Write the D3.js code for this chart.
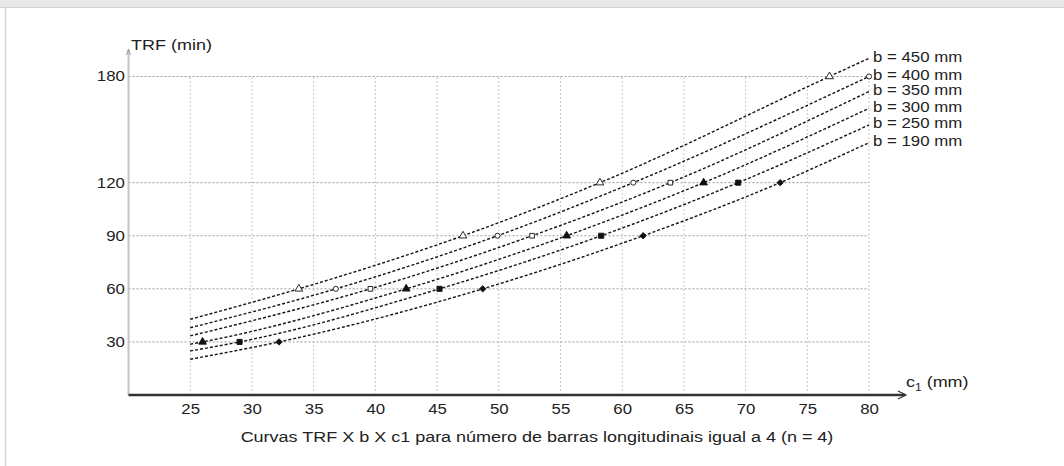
<!DOCTYPE html>
<html>
<head>
<meta charset="utf-8">
<script src="https://cdn.jsdelivr.net/npm/d3@7"></script>
<style>
body { margin: 0; background: #fff; }
text { font-family: "Liberation Sans", Arial, sans-serif; fill: #222; }
</style>
</head>
<body>
<script>
// valores
const xTicks = [25, 30, 35, 40, 45, 50, 55, 60, 65, 70, 75, 80];
const yTicks = [30, 60, 90, 120, 180];
const larguras = ["b = 450 mm", "b = 400 mm", "b = 350 mm", "b = 300 mm", "b = 250 mm", "b = 190 mm"];

const c1_450 = [25, 33.8, 47.1, 58.2, 76.8, 80];
const trf_450 = [42.8, 60, 90, 120, 180, 190.3];
const c1_400 = [25, 36.8, 49.9, 60.9, 80];
const trf_400 = [38.0, 60, 90, 120, 180];
const c1_350 = [25, 39.6, 52.7, 63.9, 80];
const trf_350 = [33.4, 60, 90, 120, 171.5];
const c1_300 = [25, 26.0, 42.5, 55.5, 66.6, 80];
const trf_300 = [28.7, 30, 60, 90, 120, 162];
const c1_250 = [25, 29.0, 45.2, 58.3, 69.4, 80];
const trf_250 = [24.9, 30, 60, 90, 120, 152.6];
const c1_190 = [25, 32.2, 48.7, 61.7, 72.8, 80];
const trf_190 = [20.2, 30, 60, 90, 120, 142.6];

const losango = d3.symbolDiamond2 || d3.symbolDiamond;

const series = [
  {nome: larguras[0], c1: c1_450, trf: trf_450, simbolo: d3.symbolTriangle, cheio: false, tam: 26},
  {nome: larguras[1], c1: c1_400, trf: trf_400, simbolo: d3.symbolCircle, cheio: false, tam: 20},
  {nome: larguras[2], c1: c1_350, trf: trf_350, simbolo: d3.symbolSquare, cheio: false, tam: 22},
  {nome: larguras[3], c1: c1_300, trf: trf_300, simbolo: d3.symbolTriangle, cheio: true, tam: 26},
  {nome: larguras[4], c1: c1_250, trf: trf_250, simbolo: d3.symbolSquare, cheio: true, tam: 26},
  {nome: larguras[5], c1: c1_190, trf: trf_190, simbolo: losango, cheio: true, tam: 26}
];

const W = 1064, H = 466;
const esticar = 1.2; // texto do original e mais largo

svg = d3.select("body").append("svg")
  .attr("width", W)
  .attr("height", H);

// moldura
svg.append("rect").attr("x", 0).attr("y", 0).attr("width", W).attr("height", 7).attr("fill", "#e7e7e7");
svg.append("line").attr("x1", 0).attr("x2", W).attr("y1", 7.5).attr("y2", 7.5).attr("stroke", "#d2d2d2");
svg.append("line").attr("x1", 5.5).attr("x2", 5.5).attr("y1", 8).attr("y2", H).attr("stroke", "#d6d6d6").attr("stroke-width", 1.5);

var x = d3.scaleLinear().domain([20, 80]).range([128.5, 869]);
var y = d3.scaleLinear().domain([0, 180]).range([395, 76.5]);

function texto(px, py, t, tam, ancora) {
  return svg.append("text")
    .attr("transform", "translate(" + px + "," + py + ") scale(" + esticar + ",1)")
    .attr("text-anchor", ancora || "start")
    .attr("font-size", tam)
    .text(t);
}

// grade
svg.append("g").selectAll("line").data(xTicks).join("line")
  .attr("x1", d => x(d)).attr("x2", d => x(d))
  .attr("y1", y(0)).attr("y2", y(180))
  .attr("stroke", "#b8b8b8").attr("stroke-dasharray", "1.5,2.5");

svg.append("g").selectAll("line").data(yTicks).join("line")
  .attr("x1", x(20)).attr("x2", x(80))
  .attr("y1", d => y(d)).attr("y2", d => y(d))
  .attr("stroke", "#9a9a9a").attr("stroke-dasharray", "2,2");

// eixos (so os rotulos vem do d3.axis)
eixoX = svg.append("g")
  .attr("transform", "translate(0," + y(0) + ")")
  .call(d3.axisBottom(x).tickValues(xTicks).tickSize(0).tickPadding(9));
eixoY = svg.append("g")
  .attr("transform", "translate(" + x(20) + ",0)")
  .call(d3.axisLeft(y).tickValues(yTicks).tickSize(0).tickPadding(3));
[eixoX, eixoY].forEach(g => {
  g.select(".domain").remove();
  g.selectAll("text")
    .attr("font-family", "Liberation Sans, Arial, sans-serif")
    .attr("font-size", 14)
    .attr("fill", "#222")
    .attr("transform", "scale(" + esticar + ",1)");
});

svg.append("line")
  .attr("x1", x(20)).attr("x2", x(20)).attr("y1", y(0)).attr("y2", 50)
  .attr("stroke", "#c4c4c4").attr("stroke-width", 2);
svg.append("path").attr("d", "M126.5,55 L128.5,49 L130.5,55")
  .attr("fill", "none").attr("stroke", "#999");

svg.append("line")
  .attr("x1", x(20)).attr("x2", 905).attr("y1", y(0)).attr("y2", y(0))
  .attr("stroke", "#333").attr("stroke-width", 2.5);
svg.append("path").attr("d", "M898,391 L906,395 L898,399")
  .attr("fill", "none").attr("stroke", "#333").attr("stroke-width", 1.2);

// curvas
var linha = d3.line()
  .x(d => x(d[0]))
  .y(d => y(d[1]))
  .curve(d3.curveMonotoneX);

series.forEach(s => {
  var pontos = s.c1.map((c, i) => [c, s.trf[i]]);
  svg.append("path")
    .attr("d", linha(pontos))
    .attr("fill", "none")
    .attr("stroke", "#151515")
    .attr("stroke-width", 1.4)
    .attr("stroke-dasharray", "3,2");

  svg.append("g").selectAll("path")
    .data(pontos.filter(p => yTicks.includes(p[1])))
    .join("path")
    .attr("transform", p => "translate(" + x(p[0]) + "," + y(p[1]) + ")")
    .attr("d", d3.symbol().type(s.simbolo).size(s.tam))
    .attr("fill", s.cheio ? "#111" : "#fff")
    .attr("stroke", "#111")
    .attr("stroke-width", 0.9);

  var fim = pontos[pontos.length - 1];
  texto(873, y(fim[1]) + 3.5, s.nome, 14);
});

// titulos
texto(131, 50, "TRF (min)", 15);
var c1 = texto(906, 387, "c", 15);
c1.append("tspan").attr("font-size", 10).attr("dy", 4).text("1");
c1.append("tspan").attr("dy", -4).text(" (mm)");

texto(537, 442, "Curvas TRF X b X c1 para número de barras longitudinais igual a 4 (n = 4)", 15, "middle");
</script>
</body>
</html>
